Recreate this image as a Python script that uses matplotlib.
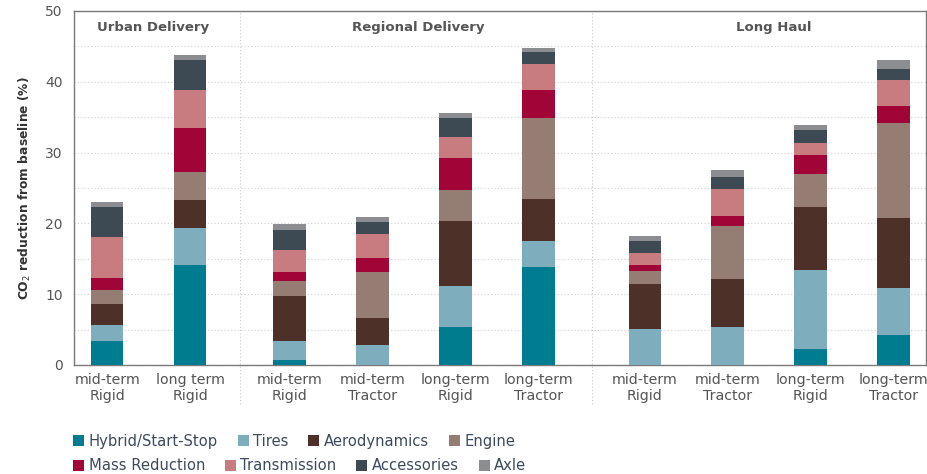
import numpy as np
import matplotlib
matplotlib.use("Agg")
import matplotlib.pyplot as plt
from matplotlib.patches import Patch
import matplotlib.transforms as mtransforms

# bar labels per group
groups = ["Urban Delivery", "Regional Delivery", "Long Haul"]
group_sizes = [2, 4, 4]
bar_labels = ["mid-term\nRigid", "long term\nRigid",
              "mid-term\nRigid", "mid-term\nTractor", "long-term\nRigid", "long-term\nTractor",
              "mid-term\nRigid", "mid-term\nTractor", "long-term\nRigid", "long-term\nTractor"]

# CO2 reduction (%) per technology, one value per bar
hybrid       = [3.4, 14.1, 0.75, 0.0, 5.3, 13.9, 0.0, 0.0, 2.25, 4.2]
tires        = [2.3, 5.2, 2.65, 2.85, 5.9, 3.65, 5.1, 5.3, 11.1, 6.6]
aerodynamics = [2.9, 4.0, 6.35, 3.85, 9.2, 5.85, 6.35, 6.9, 8.95, 9.95]
engine       = [2.0, 4.0, 2.05, 6.4, 4.35, 11.45, 1.85, 7.4, 4.6, 13.35]
mass_red     = [1.75, 6.15, 1.4, 1.95, 4.45, 4.0, 0.8, 1.4, 2.7, 2.5]
transmission = [5.75, 5.35, 3.0, 3.4, 3.0, 3.6, 1.7, 3.85, 1.7, 3.6]
accessories  = [4.15, 4.2, 2.9, 1.75, 2.7, 1.75, 1.75, 1.7, 1.9, 1.55]
axle         = [0.8, 0.75, 0.75, 0.75, 0.75, 0.6, 0.7, 0.95, 0.75, 1.35]

series = [
    ("Hybrid/Start-Stop", hybrid, "#007c91"),
    ("Tires", tires, "#7eadbd"),
    ("Aerodynamics", aerodynamics, "#4d3027"),
    ("Engine", engine, "#967d73"),
    ("Mass Reduction", mass_red, "#a10437"),
    ("Transmission", transmission, "#c87c7f"),
    ("Accessories", accessories, "#3e4a53"),
    ("Axle", axle, "#8c8d91"),
]

# x positions: unit spacing inside a group, wider gap between groups
group_starts = [0.0, 2.2, 6.48]
x = np.concatenate([s + np.arange(n) for s, n in zip(group_starts, group_sizes)])
separators = [1.6, 5.84]

fig = plt.figure(figsize=(9.27, 4.74), dpi=100)
ax = fig.add_axes([0.0798, 0.23, 0.919, 0.747])

bottom = np.zeros(len(x))
for name, vals, col in series:
    vals = np.array(vals)
    ax.bar(x, vals, width=0.39, bottom=bottom, color=col, zorder=3, linewidth=0)
    bottom += vals

ax.set_xlim(-0.4, 9.87)
ax.set_ylim(0, 50)
ax.set_yticks(range(0, 51, 10))
ax.set_yticks(range(0, 51, 5), minor=True)
ax.grid(axis="y", which="both", color="#cfcfcf", linestyle=(0, (1, 2)), linewidth=0.8, zorder=0)
ax.tick_params(axis="y", which="both", length=0, labelsize=10, labelcolor="#555555", pad=8)
ax.set_xticks(x, bar_labels)
ax.tick_params(axis="x", length=0, labelsize=10.2, labelcolor="#555555", pad=6)
for lab in ax.get_xticklabels():
    lab.set_linespacing(1.18)

for s in ax.spines.values():
    s.set_color("#7a7a7a")
    s.set_linewidth(1.0)

ax.set_ylabel("CO$_2$ reduction from baseline (%)", fontsize=8.8, color="#333333",
              fontweight="bold", labelpad=9)

# group separators, running down into the label area
trans = mtransforms.blended_transform_factory(ax.transData, ax.transAxes)
for sx in separators:
    ax.plot([sx, sx], [-0.11, 1], transform=trans, color="#c8c8c8",
            linestyle=(0, (1, 2)), linewidth=0.8, clip_on=False, zorder=1)

# group titles centred over their bars
idx = 0
for g, n in zip(groups, group_sizes):
    cx = x[idx:idx + n].mean()
    ax.text(cx + 0.05, 47.6, g, ha="center", va="center", fontsize=9.5,
            fontweight="bold", color="#555555")
    idx += n

# legend in two rows
handles = [Patch(facecolor=c, edgecolor="none", label=n) for n, _, c in series]
for row, yy in [(0, 0.0696), (1, 0.0169)]:
    fig.legend(handles=handles[row * 4:row * 4 + 4], loc="center left",
               bbox_to_anchor=(0.079, yy), ncol=4, frameon=False, fontsize=10.6,
               handlelength=0.75, handleheight=0.75, handletextpad=0.3,
               columnspacing=1.35, borderpad=0, borderaxespad=0,
               labelcolor="#3d4a5c")

fig.savefig("out.png", dpi=100)
